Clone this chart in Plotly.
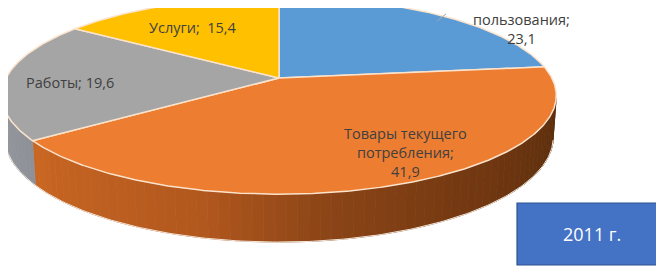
import numpy as np
import plotly.graph_objects as go

# ---------------- data ----------------
categories = ["Товары длительного пользования", "Товары текущего потребления", "Работы", "Услуги"]
values = [23.1, 41.9, 19.6, 15.4]
label_texts = ["пользования;<br>23,1", "Товары текущего<br>потребления;<br>41,9", "Работы; 19,6", "Услуги;  15,4"]
year_label = "2011 г."

# ---------------- style ----------------
top_colors = ["#5B9BD5", "#ED7D31", "#A5A5A5", "#FFC000"]
side_stops = [
    [(90, (40, 75, 120)), (270, (60, 100, 150))],
    [(100, (88, 44, 12)), (148, (118, 58, 18)), (171, (138, 68, 22)), (194, (178, 88, 30)), (240, (205, 105, 35))],
    [(230, (140, 144, 150)), (262, (150, 154, 160))],
    [(260, (180, 140, 20)), (300, (200, 150, 20))],
]
edge_col = "#FBE3CC"
text_col = "#404040"
FONT = "Open Sans"
OFF = 8  # page body margin compensation

CX, CY = 279.0, 78.0
K = 1438.0
S = 0.35
C = float(np.sqrt(1 - S * S))
D = 5.27
H = 0.161


def proj(theta_deg, r, z):
    t = np.radians(theta_deg)
    X = r * np.sin(t)
    Y = r * np.cos(t)
    depth = D + Y * C - z * S
    return CX + K * X / depth, CY - K * (Y * S + z * C) / depth


def interp_col(stops, a):
    angs = [p[0] for p in stops]
    rgb = np.array([p[1] for p in stops], dtype=float)
    col = [np.interp(a, angs, rgb[:, i]) for i in range(3)]
    return "rgb(%d,%d,%d)" % tuple(int(round(v)) for v in col)


fig = go.Figure()

total = sum(values)
bounds = np.concatenate([[0.0], np.cumsum(values) / total * 360.0])

vis_lo = np.degrees(np.arccos(-1.0 / (D * C)))
vis_hi = 360.0 - vis_lo

# --- side faces ---
for i in range(len(values)):
    a0, a1 = bounds[i], bounds[i + 1]
    lo, hi = max(a0, vis_lo), min(a1, vis_hi)
    if hi <= lo:
        continue
    n = max(1, int(np.ceil((hi - lo) / 2.0)))
    edges = np.linspace(lo, hi, n + 1)
    for j in range(n):
        t1, t2 = edges[j], edges[j + 1]
        ts = np.linspace(t1, t2, 4)
        xs_top, ys_top = proj(ts, 1.0, 0.0)
        xs_bot, ys_bot = proj(ts[::-1], 1.0, -H)
        xs = np.concatenate([xs_top, xs_bot, xs_top[:1]])
        ys = np.concatenate([ys_top, ys_bot, ys_top[:1]])
        col = interp_col(side_stops[i], 0.5 * (t1 + t2))
        fig.add_trace(go.Scatter(x=xs, y=ys, mode="lines", fill="toself",
                                 fillcolor=col, line=dict(color=col, width=0.8),
                                 hoverinfo="skip", showlegend=False))

tb = np.linspace(vis_lo, vis_hi, 200)
bx, by = proj(tb, 1.0, -H)
fig.add_trace(go.Scatter(x=bx, y=by, mode="lines", line=dict(color="#F3E6DA", width=1),
                         hoverinfo="skip", showlegend=False))

# --- top faces ---
for i in range(len(values)):
    a0, a1 = bounds[i], bounds[i + 1]
    ts = np.linspace(a0, a1, max(3, int((a1 - a0) * 2)))
    ax, ay = proj(ts, 1.0, 0.0)
    cx0, cy0 = proj(0.0, 0.0, 0.0)
    xs = np.concatenate([[cx0], ax, [cx0]])
    ys = np.concatenate([[cy0], ay, [cy0]])
    fig.add_trace(go.Scatter(x=xs, y=ys, mode="lines", fill="toself",
                             fillcolor=top_colors[i], line=dict(color=edge_col, width=1.5),
                             name=categories[i], hoverinfo="name", showlegend=False))

# --- labels ---
label_pos = [(521, 9, "top"), (405, 152, "middle"), (70, 82, "middle"), (193, 27, "middle")]
for txt, (lx, ly, ya) in zip(label_texts, label_pos):
    fig.add_annotation(x=lx, y=ly, xref="x", yref="y", text=txt, showarrow=False,
                       font=dict(family=FONT, size=14.5, color=text_col),
                       align="center", xanchor="center", yanchor=ya, borderpad=0)

fig.add_shape(type="line", x0=437, y0=21, x1=446, y1=14, xref="x", yref="y",
              line=dict(color="#A6A6A6", width=1))

# year box
fig.add_shape(type="rect", x0=517, y0=203, x1=663, y1=265, xref="x", yref="y",
              fillcolor="#4472C4", line=dict(color="#2F528F", width=1.2))
fig.add_annotation(x=592, y=234, xref="x", yref="y", text=year_label, showarrow=False,
                   font=dict(family=FONT, size=18, color="white"),
                   xanchor="center", yanchor="middle")

fig.update_xaxes(range=[OFF, 664 + OFF], visible=False, fixedrange=True)
fig.update_yaxes(range=[267 + OFF, OFF], visible=False, fixedrange=True)
fig.update_layout(width=664, height=267, margin=dict(l=0, r=0, t=0, b=0),
                  paper_bgcolor="white", plot_bgcolor="white")

fig.write_html("out.html")
